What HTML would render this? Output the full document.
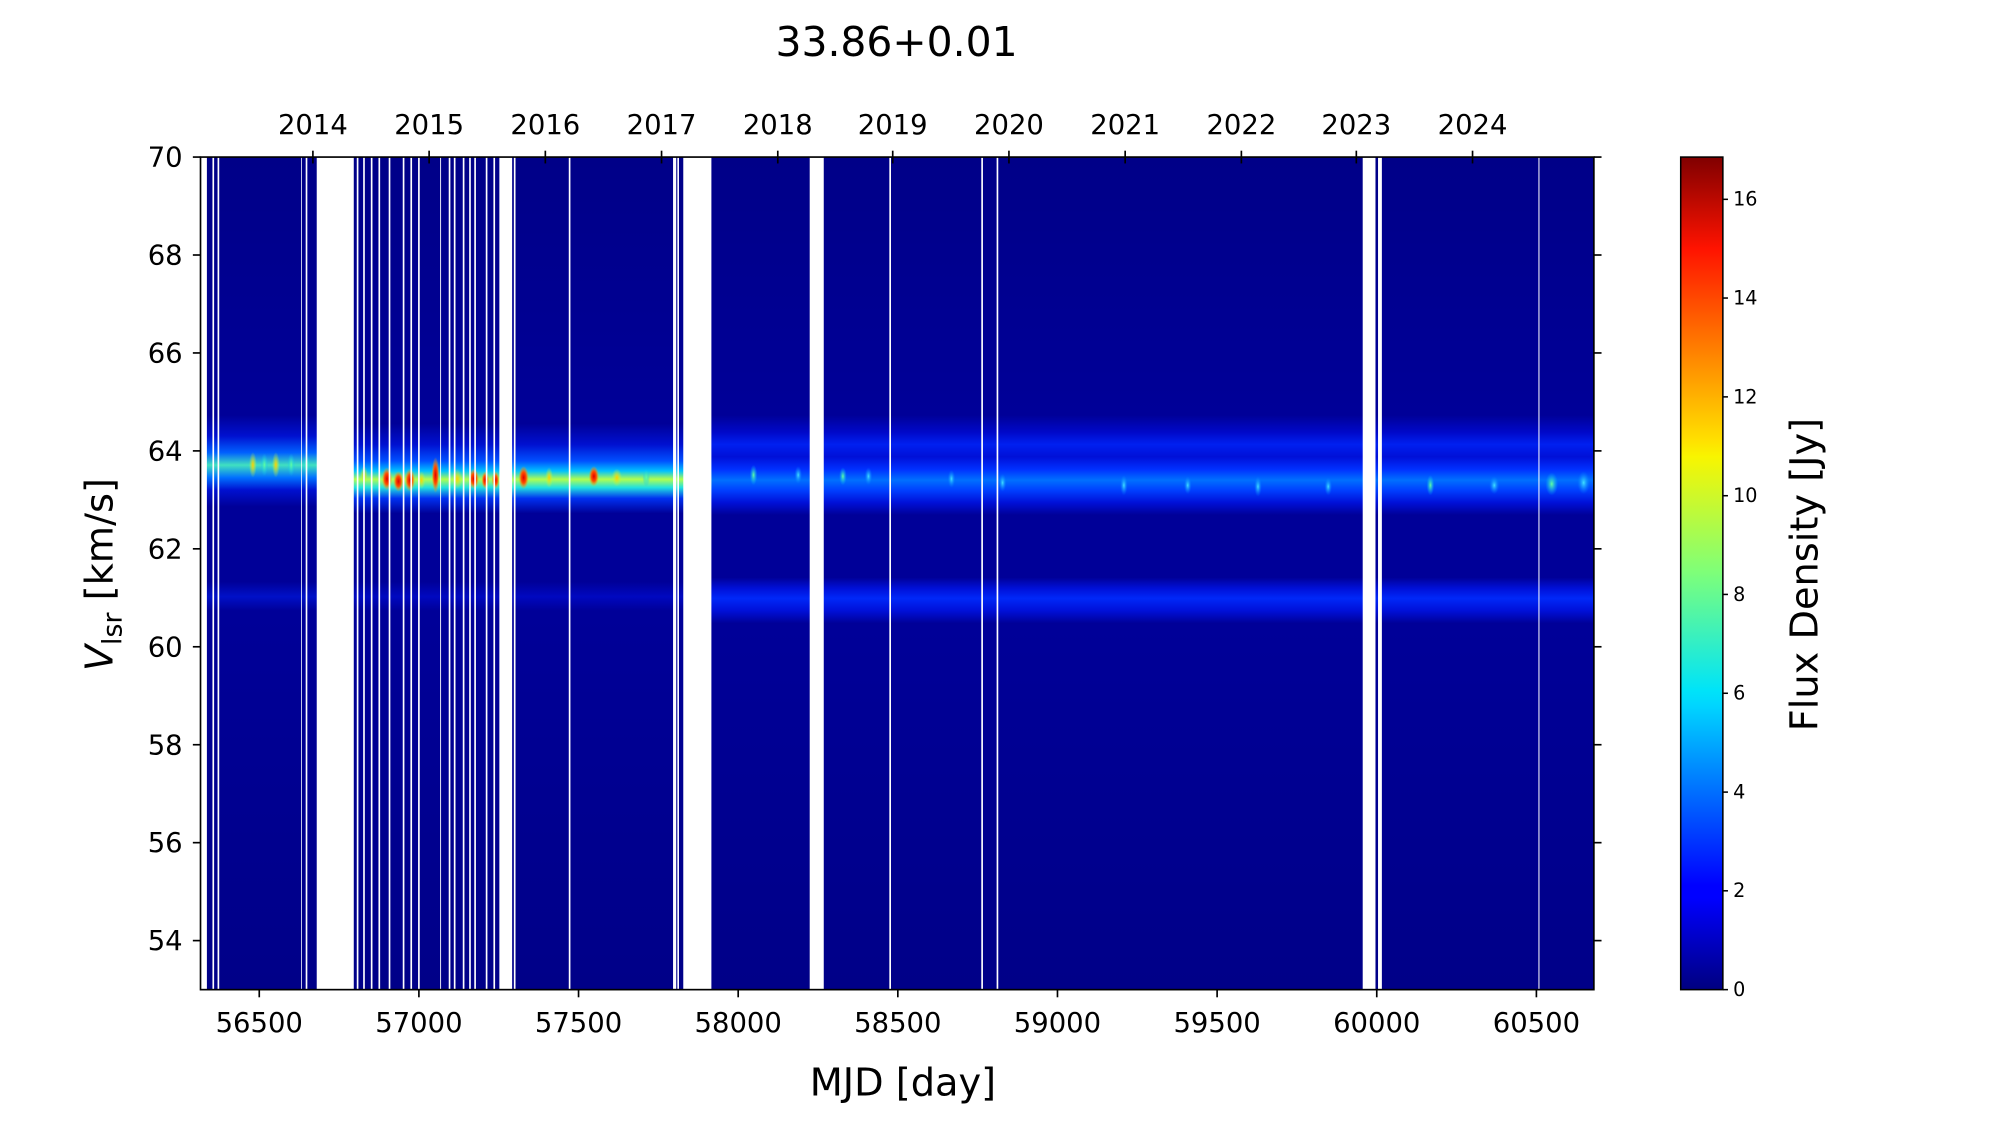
<!DOCTYPE html>
<html><head><meta charset="utf-8"><style>
html,body{margin:0;padding:0;background:#fff;}
svg{display:block;font-family:"DejaVu Sans","Liberation Sans",sans-serif;}
</style></head><body>
<svg width="2000" height="1125" viewBox="0 0 1566 881" preserveAspectRatio="none" xmlns="http://www.w3.org/2000/svg">
<defs>
<linearGradient id="gA" gradientUnits="userSpaceOnUse" x1="0" y1="123" x2="0" y2="775">
<stop offset="0" stop-color="#000088"/>
<stop offset="0.31" stop-color="#000098"/>
<stop offset="0.335" stop-color="#0010d0"/>
<stop offset="0.355" stop-color="#0060ff"/>
<stop offset="0.37" stop-color="#40e0c0"/>
<stop offset="0.385" stop-color="#0070ff"/>
<stop offset="0.40" stop-color="#0010d0"/>
<stop offset="0.42" stop-color="#000098"/>
<stop offset="0.51" stop-color="#000098"/>
<stop offset="0.528" stop-color="#0010c8"/>
<stop offset="0.545" stop-color="#000098"/>
<stop offset="1" stop-color="#000088"/>
</linearGradient>
<linearGradient id="gB" gradientUnits="userSpaceOnUse" x1="0" y1="123" x2="0" y2="775">
<stop offset="0" stop-color="#000088"/>
<stop offset="0.32" stop-color="#000098"/>
<stop offset="0.345" stop-color="#0010d0"/>
<stop offset="0.365" stop-color="#0050ff"/>
<stop offset="0.377" stop-color="#00c0ff"/>
<stop offset="0.387" stop-color="#b0ff50"/>
<stop offset="0.397" stop-color="#20e0e0"/>
<stop offset="0.41" stop-color="#0030f0"/>
<stop offset="0.428" stop-color="#000098"/>
<stop offset="0.51" stop-color="#000098"/>
<stop offset="0.528" stop-color="#0008c0"/>
<stop offset="0.545" stop-color="#000098"/>
<stop offset="1" stop-color="#000088"/>
</linearGradient>
<linearGradient id="gC" gradientUnits="userSpaceOnUse" x1="0" y1="123" x2="0" y2="775">
<stop offset="0" stop-color="#000088"/>
<stop offset="0.31" stop-color="#000098"/>
<stop offset="0.33" stop-color="#0008c8"/>
<stop offset="0.345" stop-color="#0020f0"/>
<stop offset="0.36" stop-color="#0010d8"/>
<stop offset="0.375" stop-color="#0030ff"/>
<stop offset="0.388" stop-color="#0070ff"/>
<stop offset="0.40" stop-color="#0040ff"/>
<stop offset="0.415" stop-color="#0010d8"/>
<stop offset="0.43" stop-color="#000098"/>
<stop offset="0.505" stop-color="#000098"/>
<stop offset="0.518" stop-color="#0010d8"/>
<stop offset="0.53" stop-color="#0028f8"/>
<stop offset="0.545" stop-color="#0010d8"/>
<stop offset="0.56" stop-color="#000098"/>
<stop offset="1" stop-color="#000088"/>
</linearGradient>
<linearGradient id="jet" x1="0" y1="1" x2="0" y2="0">
<stop offset="0" stop-color="#000080"/>
<stop offset="0.11" stop-color="#0000ff"/>
<stop offset="0.125" stop-color="#0000ff"/>
<stop offset="0.34" stop-color="#00d4ff"/>
<stop offset="0.36" stop-color="#00e4f8"/>
<stop offset="0.5" stop-color="#7dff7a"/>
<stop offset="0.64" stop-color="#f8f500"/>
<stop offset="0.66" stop-color="#ffe000"/>
<stop offset="0.89" stop-color="#ff1300"/>
<stop offset="1" stop-color="#800000"/>
</linearGradient>
<radialGradient id="spR"><stop offset="0" stop-color="#e00000"/><stop offset="0.5" stop-color="#ff5000"/><stop offset="1" stop-color="#ffb000" stop-opacity="0"/></radialGradient>
<radialGradient id="spY"><stop offset="0" stop-color="#ffd000"/><stop offset="1" stop-color="#c0ff40" stop-opacity="0"/></radialGradient>
<radialGradient id="spC"><stop offset="0" stop-color="#60ffa0"/><stop offset="1" stop-color="#00c0ff" stop-opacity="0"/></radialGradient>
<radialGradient id="spL"><stop offset="0" stop-color="#40e0ff"/><stop offset="1" stop-color="#0080ff" stop-opacity="0"/></radialGradient>
</defs>

<rect x="157" y="123" width="92" height="652" fill="url(#gA)"/>
<rect x="249" y="123" width="308" height="652" fill="url(#gB)"/>
<rect x="557" y="123" width="691" height="652" fill="url(#gC)"/>

<g>
<ellipse cx="198" cy="364" rx="3" ry="10" fill="url(#spY)"/>
<ellipse cx="207" cy="364" rx="3" ry="9" fill="url(#spC)"/>
<ellipse cx="216" cy="364" rx="3" ry="10" fill="url(#spY)"/>
<ellipse cx="228" cy="364" rx="3" ry="9" fill="url(#spC)"/>
<ellipse cx="240" cy="364" rx="3" ry="8" fill="url(#spC)"/>
</g>
<g>
<ellipse cx="285" cy="372" rx="3" ry="7" fill="url(#spY)"/>
<ellipse cx="303" cy="375" rx="4" ry="9" fill="url(#spR)"/>
<ellipse cx="312" cy="377" rx="4" ry="8" fill="url(#spR)"/>
<ellipse cx="321" cy="376" rx="4" ry="9" fill="url(#spR)"/>
<ellipse cx="330" cy="376" rx="3" ry="7" fill="url(#spY)"/>
<ellipse cx="341" cy="372" rx="3" ry="14" fill="url(#spR)"/>
<ellipse cx="358" cy="375" rx="4" ry="8" fill="url(#spY)"/>
<ellipse cx="371" cy="375" rx="4" ry="8" fill="url(#spR)"/>
<ellipse cx="380" cy="376" rx="3" ry="7" fill="url(#spR)"/>
<ellipse cx="388" cy="376" rx="3" ry="7" fill="url(#spR)"/>
<ellipse cx="410" cy="374" rx="4" ry="9" fill="url(#spR)"/>
<ellipse cx="430" cy="374" rx="3" ry="8" fill="url(#spY)"/>
<ellipse cx="465" cy="373" rx="4" ry="8" fill="url(#spR)"/>
<ellipse cx="483" cy="374" rx="4" ry="7" fill="url(#spY)"/>
<ellipse cx="506" cy="374" rx="3" ry="7" fill="url(#spC)"/>
</g>
<g>
<ellipse cx="590" cy="372" rx="3" ry="8" fill="url(#spC)"/>
<ellipse cx="625" cy="372" rx="3" ry="7" fill="url(#spL)"/>
<ellipse cx="660" cy="373" rx="3" ry="7" fill="url(#spC)"/>
<ellipse cx="680" cy="373" rx="3" ry="7" fill="url(#spL)"/>
<ellipse cx="745" cy="375" rx="3" ry="7" fill="url(#spL)"/>
<ellipse cx="785" cy="378" rx="3" ry="7" fill="url(#spL)"/>
<ellipse cx="880" cy="380" rx="3" ry="8" fill="url(#spL)"/>
<ellipse cx="930" cy="380" rx="3" ry="7" fill="url(#spL)"/>
<ellipse cx="985" cy="381" rx="3" ry="8" fill="url(#spL)"/>
<ellipse cx="1040" cy="381" rx="3" ry="7" fill="url(#spL)"/>
<ellipse cx="1120" cy="380" rx="3" ry="8" fill="url(#spC)"/>
<ellipse cx="1170" cy="380" rx="4" ry="7" fill="url(#spL)"/>
<ellipse cx="1215" cy="379" rx="5" ry="9" fill="url(#spC)"/>
<ellipse cx="1240" cy="378" rx="5" ry="9" fill="url(#spL)"/>
</g>

<g fill="#fff">
<rect x="157" y="123" width="5" height="652"/>
<rect x="248" y="123" width="29" height="652"/>
<rect x="391" y="123" width="10" height="652"/>
<rect x="527" y="123" width="2.5" height="652"/>
<rect x="535" y="123" width="22" height="652"/>
<rect x="634" y="123" width="11" height="652"/>
<rect x="1067" y="123" width="10" height="652"/>
<rect x="1079" y="123" width="3" height="652"/>
</g>
<g stroke="#fff" stroke-width="1.3">
<line x1="167" y1="123" x2="167" y2="775"/>
<line x1="171" y1="123" x2="171" y2="775"/>
<line x1="236" y1="123" x2="236" y2="775" stroke-width="0.6"/>
<line x1="240" y1="123" x2="240" y2="775"/>
<line x1="280" y1="123" x2="280" y2="775"/>
<line x1="285" y1="123" x2="285" y2="775"/>
<line x1="291" y1="123" x2="291" y2="775"/>
<line x1="297" y1="123" x2="297" y2="775"/>
<line x1="305" y1="123" x2="305" y2="775"/>
<line x1="316" y1="123" x2="316" y2="775"/>
<line x1="322" y1="123" x2="322" y2="775"/>
<line x1="328" y1="123" x2="328" y2="775"/>
<line x1="345" y1="123" x2="345" y2="775" stroke-width="0.7"/>
<line x1="352" y1="123" x2="352" y2="775"/>
<line x1="356" y1="123" x2="356" y2="775"/>
<line x1="363" y1="123" x2="363" y2="775"/>
<line x1="368" y1="123" x2="368" y2="775"/>
<line x1="372" y1="123" x2="372" y2="775"/>
<line x1="381" y1="123" x2="381" y2="775"/>
<line x1="387" y1="123" x2="387" y2="775"/>
<line x1="403" y1="123" x2="403" y2="775"/>
<line x1="446" y1="123" x2="446" y2="775"/>
<line x1="531" y1="123" x2="531" y2="775"/>
<line x1="697" y1="123" x2="697" y2="775"/>
<line x1="769" y1="123" x2="769" y2="775"/>
<line x1="781" y1="123" x2="781" y2="775"/>
<line x1="1205" y1="123" x2="1205" y2="775" stroke-width="0.8"/>
</g>

<rect x="157" y="123" width="1091" height="652" fill="none" stroke="#000" stroke-width="1.3"/>

<g stroke="#000" stroke-width="1.3">
<line x1="151" y1="123" x2="157" y2="123"/><line x1="1248" y1="123" x2="1254" y2="123"/>
<line x1="151" y1="199.7" x2="157" y2="199.7"/><line x1="1248" y1="199.7" x2="1254" y2="199.7"/>
<line x1="151" y1="276.4" x2="157" y2="276.4"/><line x1="1248" y1="276.4" x2="1254" y2="276.4"/>
<line x1="151" y1="353.1" x2="157" y2="353.1"/><line x1="1248" y1="353.1" x2="1254" y2="353.1"/>
<line x1="151" y1="429.8" x2="157" y2="429.8"/><line x1="1248" y1="429.8" x2="1254" y2="429.8"/>
<line x1="151" y1="506.5" x2="157" y2="506.5"/><line x1="1248" y1="506.5" x2="1254" y2="506.5"/>
<line x1="151" y1="583.2" x2="157" y2="583.2"/><line x1="1248" y1="583.2" x2="1254" y2="583.2"/>
<line x1="151" y1="659.9" x2="157" y2="659.9"/><line x1="1248" y1="659.9" x2="1254" y2="659.9"/>
<line x1="151" y1="736.6" x2="157" y2="736.6"/><line x1="1248" y1="736.6" x2="1254" y2="736.6"/>
</g>
<g font-size="21.5" text-anchor="end" fill="#000">
<text x="143" y="130.5">70</text>
<text x="143" y="207.2">68</text>
<text x="143" y="283.9">66</text>
<text x="143" y="360.6">64</text>
<text x="143" y="437.3">62</text>
<text x="143" y="514">60</text>
<text x="143" y="590.7">58</text>
<text x="143" y="667.4">56</text>
<text x="143" y="744.1">54</text>
</g>

<g stroke="#000" stroke-width="1.3">
<line x1="203" y1="775" x2="203" y2="781"/>
<line x1="328" y1="775" x2="328" y2="781"/>
<line x1="453" y1="775" x2="453" y2="781"/>
<line x1="578" y1="775" x2="578" y2="781"/>
<line x1="703" y1="775" x2="703" y2="781"/>
<line x1="828" y1="775" x2="828" y2="781"/>
<line x1="953" y1="775" x2="953" y2="781"/>
<line x1="1078" y1="775" x2="1078" y2="781"/>
<line x1="1203" y1="775" x2="1203" y2="781"/>
</g>
<g font-size="21.5" text-anchor="middle" fill="#000">
<text x="203" y="808">56500</text>
<text x="328" y="808">57000</text>
<text x="453" y="808">57500</text>
<text x="578" y="808">58000</text>
<text x="703" y="808">58500</text>
<text x="828" y="808">59000</text>
<text x="953" y="808">59500</text>
<text x="1078" y="808">60000</text>
<text x="1203" y="808">60500</text>
</g>

<g stroke="#000" stroke-width="1.3">
<line x1="245" y1="118" x2="245" y2="128"/>
<line x1="336" y1="118" x2="336" y2="128"/>
<line x1="427" y1="118" x2="427" y2="128"/>
<line x1="518" y1="118" x2="518" y2="128"/>
<line x1="609" y1="118" x2="609" y2="128"/>
<line x1="699" y1="118" x2="699" y2="128"/>
<line x1="790" y1="118" x2="790" y2="128"/>
<line x1="881" y1="118" x2="881" y2="128"/>
<line x1="972" y1="118" x2="972" y2="128"/>
<line x1="1062" y1="118" x2="1062" y2="128"/>
<line x1="1153" y1="118" x2="1153" y2="128"/>
</g>
<g font-size="21.5" text-anchor="middle" fill="#000">
<text x="245" y="105">2014</text>
<text x="336" y="105">2015</text>
<text x="427" y="105">2016</text>
<text x="518" y="105">2017</text>
<text x="609" y="105">2018</text>
<text x="699" y="105">2019</text>
<text x="790" y="105">2020</text>
<text x="881" y="105">2021</text>
<text x="972" y="105">2022</text>
<text x="1062" y="105">2023</text>
<text x="1153" y="105">2024</text>
</g>

<text x="702" y="44" font-size="32" text-anchor="middle">33.86+0.01</text>
<text x="707" y="858" font-size="30" text-anchor="middle">MJD [day]</text>
<text transform="translate(88,450) rotate(-90)" font-size="30" text-anchor="middle"><tspan font-style="italic">V</tspan><tspan font-size="21" dy="7">lsr</tspan><tspan dy="-7"> [km/s]</tspan></text>

<rect x="1316" y="123" width="33" height="652" fill="url(#jet)" stroke="#000" stroke-width="1.2"/>
<g stroke="#000" stroke-width="1.2">
<line x1="1349" y1="775" x2="1353" y2="775"/>
<line x1="1349" y1="697.6" x2="1353" y2="697.6"/>
<line x1="1349" y1="620.3" x2="1353" y2="620.3"/>
<line x1="1349" y1="542.9" x2="1353" y2="542.9"/>
<line x1="1349" y1="465.5" x2="1353" y2="465.5"/>
<line x1="1349" y1="388.2" x2="1353" y2="388.2"/>
<line x1="1349" y1="310.8" x2="1353" y2="310.8"/>
<line x1="1349" y1="233.4" x2="1353" y2="233.4"/>
<line x1="1349" y1="156.1" x2="1353" y2="156.1"/>
</g>
<g font-size="15" fill="#000">
<text x="1357" y="780">0</text>
<text x="1357" y="702.6">2</text>
<text x="1357" y="625.3">4</text>
<text x="1357" y="547.9">6</text>
<text x="1357" y="470.5">8</text>
<text x="1357" y="393.2">10</text>
<text x="1357" y="315.8">12</text>
<text x="1357" y="238.4">14</text>
<text x="1357" y="161.1">16</text>
</g>
<text transform="translate(1423,450) rotate(-90)" font-size="30" text-anchor="middle">Flux Density [Jy]</text>
</svg>
</body></html>
